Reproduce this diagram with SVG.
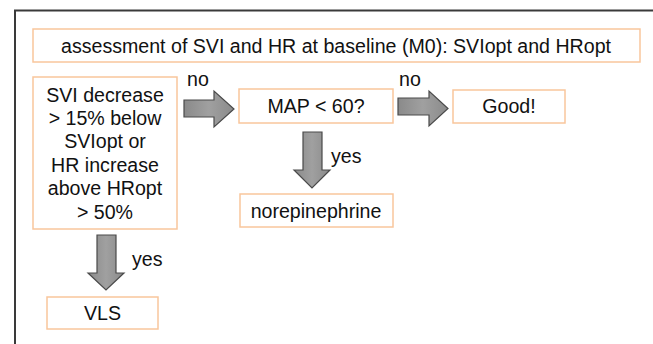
<svg xmlns="http://www.w3.org/2000/svg" width="653" height="344" viewBox="0 0 653 344">
<defs>
<linearGradient id="ag" x1="0" y1="0" x2="1" y2="0">
<stop offset="0" stop-color="#8a8a8a"/><stop offset="0.5" stop-color="#a0a0a0"/><stop offset="1" stop-color="#8a8a8a"/>
</linearGradient>
</defs>
<style>
.box{fill:#fff;stroke:#f9c69c;stroke-width:1.5}
.t{font-family:"Liberation Sans",Arial,sans-serif;font-size:19.6px;fill:#111;text-anchor:middle}
.l{font-family:"Liberation Sans",Arial,sans-serif;font-size:19.6px;fill:#111}
.arr{fill:url(#ag);stroke:#4a4a4a;stroke-width:1.2;stroke-linejoin:miter}
</style>
<rect width="653" height="344" fill="#fff"/>
<path d="M15,350 V10.5 H660" fill="none" stroke="#3a3a3a" stroke-width="2"/>
<g id="n-title"><rect class="box" x="33" y="29" width="607" height="33"/><text class="t" x="336" y="52.5">assessment of SVI and HR at baseline (M0): SVIopt and HRopt</text></g>
<g id="n-cond"><rect class="box" x="33" y="77" width="144" height="152"/>
<text class="t" x="105" y="101.5">SVI decrease</text>
<text class="t" x="105" y="124.5">&gt; 15% below</text>
<text class="t" x="105" y="148">SVIopt or</text>
<text class="t" x="105" y="171.5">HR increase</text>
<text class="t" x="105" y="195">above HRopt</text>
<text class="t" x="105" y="218.5">&gt; 50%</text></g>
<g id="n-map"><rect class="box" x="239" y="89" width="154" height="34"/><text class="t" x="316" y="113">MAP &lt; 60?</text></g>
<g id="n-good"><rect class="box" x="453" y="90" width="112" height="33"/><text class="t" x="509" y="113">Good!</text></g>
<g id="n-nor"><rect class="box" x="240" y="194" width="153" height="33"/><text class="t" x="316" y="217.5">norepinephrine</text></g>
<g id="n-vls"><rect class="box" x="47" y="297" width="111" height="32"/><text class="t" x="102.5" y="320">VLS</text></g>
<g id="connectors">
<polygon class="arr" points="184,100 214,100 214,91 234,109 214,127 214,117 184,117"/>
<polygon class="arr" points="398,98 429,98 429,91 448,108.5 429,126 429,115 398,115"/>
<polygon class="arr" points="303,132 322,132 322,170 330,170 312,188 294,170 303,170"/>
<polygon class="arr" points="97,235 116,235 116,273 124,273 106,290 88,273 97,273"/>
<text class="l" x="187" y="86">no</text>
<text class="l" x="399" y="86">no</text>
<text class="l" x="331" y="163">yes</text>
<text class="l" x="132" y="266">yes</text>
</g>
</svg>
